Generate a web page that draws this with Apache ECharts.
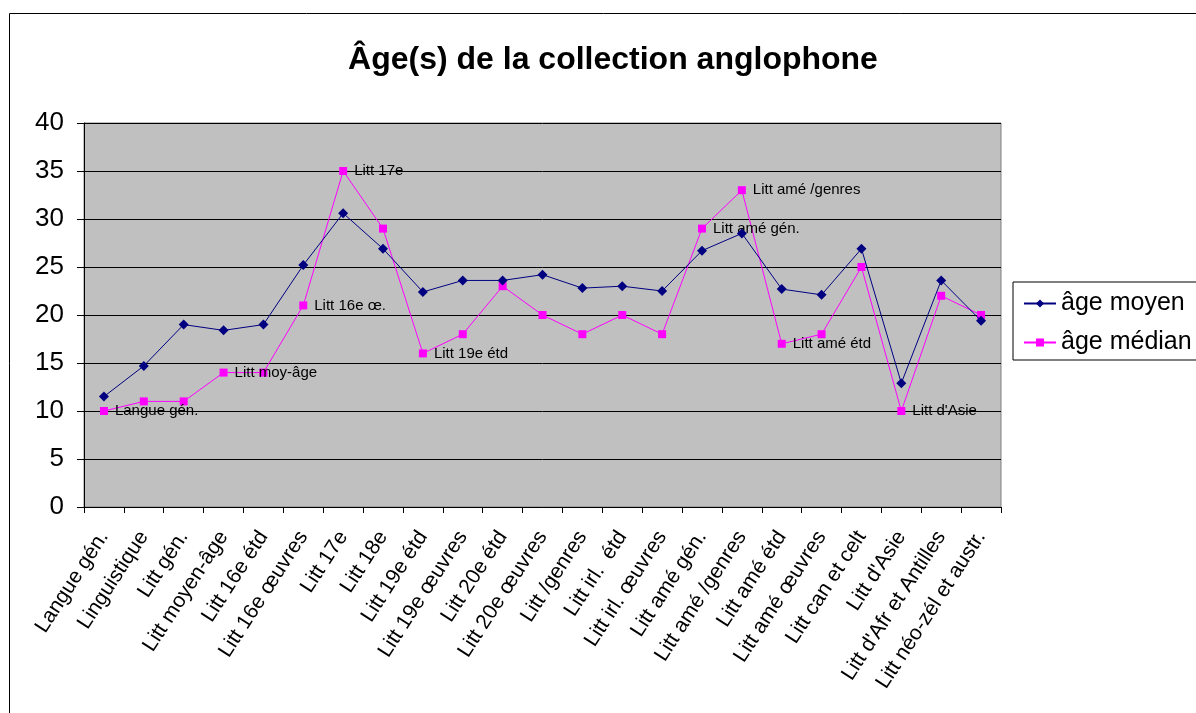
<!DOCTYPE html>
<html><head><meta charset="utf-8">
<script src="https://cdn.jsdelivr.net/npm/echarts@6/dist/echarts.min.js"></script>
<style>html,body{margin:0;padding:0;background:#fff;}#c{width:1196px;height:713px;}</style>
</head><body><div id="c"></div>
<script>
const categories = ["Langue gén.","Linguistique","Litt gén.","Litt moyen-âge","Litt 16e étd","Litt 16e œuvres","Litt 17e","Litt 18e","Litt 19e étd","Litt 19e œuvres","Litt 20e étd","Litt 20e œuvres","Litt /genres","Litt irl.  étd","Litt irl. œuvres","Litt amé gén.","Litt amé /genres","Litt amé étd","Litt amé œuvres","Litt can et celt","Litt d'Asie","Litt d'Afr et Antilles","Litt néo-zél et austr."];
const ageMoyen = [11.5,14.7,19.0,18.4,19.0,25.2,30.6,26.9,22.4,23.6,23.6,24.2,22.8,23.0,22.5,26.7,28.5,22.7,22.1,26.9,12.9,23.6,19.4];
const ageMedian = [10,11,11,14,14,21,35,29,16,18,23,20,18,20,18,29,33,17,18,25,10,22,20];
const medianLabels = ["Langue gén.","","","Litt moy-âge","","Litt 16e œ.","Litt 17e","","Litt 19e étd","","","","","","","Litt amé gén.","Litt amé /genres","Litt amé étd","","","Litt d'Asie","",""];
const yTicks = {min:0, max:40, interval:5};

const FONT = "'Liberation Sans', Arial, sans-serif";
const chart = echarts.init(document.getElementById('c'), null, {renderer:'canvas'});
chart.setOption({
  animation:false,
  backgroundColor:'#fff',
  textStyle:{fontFamily:FONT, color:'#000'},
  graphic:[{type:'rect', shape:{x:9.5,y:13.5,width:1200,height:720}, style:{fill:null, stroke:'#000', lineWidth:1}, z:-1}],
  title:{text:'Âge(s) de la collection anglophone', left:608, textAlign:'center', top:39,
    textStyle:{fontFamily:FONT, fontWeight:'bold', fontSize:32, color:'#000'}},
  legend:{orient:'vertical', left:1013, top:282, padding:[9,40,5,10], itemGap:14,
    itemWidth:32, itemHeight:10, borderColor:'#000', borderWidth:1, backgroundColor:'#fff',
    textStyle:{fontFamily:FONT, fontSize:25, color:'#000'},
    data:['âge moyen','âge médian']},
  grid:{left:84, right:195, top:123, bottom:206, show:true, backgroundColor:'#C0C0C0', borderColor:'#808080', borderWidth:1},
  xAxis:{type:'category', data:categories, boundaryGap:true,
    axisLine:{lineStyle:{color:'#000', width:1}},
    axisTick:{show:true, alignWithLabel:false, length:6, lineStyle:{color:'#000'}},
    axisLabel:{rotate:57, interval:0, fontSize:21, color:'#000', margin:26, fontFamily:FONT}},
  yAxis:{type:'value', min:yTicks.min, max:yTicks.max, interval:yTicks.interval,
    axisLine:{show:true, lineStyle:{color:'#000', width:1}},
    axisTick:{show:true, length:7, lineStyle:{color:'#000'}},
    axisLabel:{fontSize:26, color:'#000', margin:20, fontFamily:FONT},
    splitLine:{show:true, lineStyle:{color:'#000', width:1}}},
  series:[
    {name:'âge moyen', type:'line', data:ageMoyen, symbol:'diamond', symbolSize:10,
      itemStyle:{color:'#000080'}, lineStyle:{color:'#000080', width:1}, z:3},
    {name:'âge médian', type:'line', data:ageMedian.map((v,i)=>({value:v, label:{show:medianLabels[i]!=='', formatter:medianLabels[i]}})),
      symbol:'rect', symbolSize:8,
      itemStyle:{color:'#FF00FF'}, lineStyle:{color:'#FF00FF', width:1},
      label:{position:'right', distance:7, fontSize:15, color:'#000', fontFamily:FONT}, z:2}
  ]
});
</script></body></html>
